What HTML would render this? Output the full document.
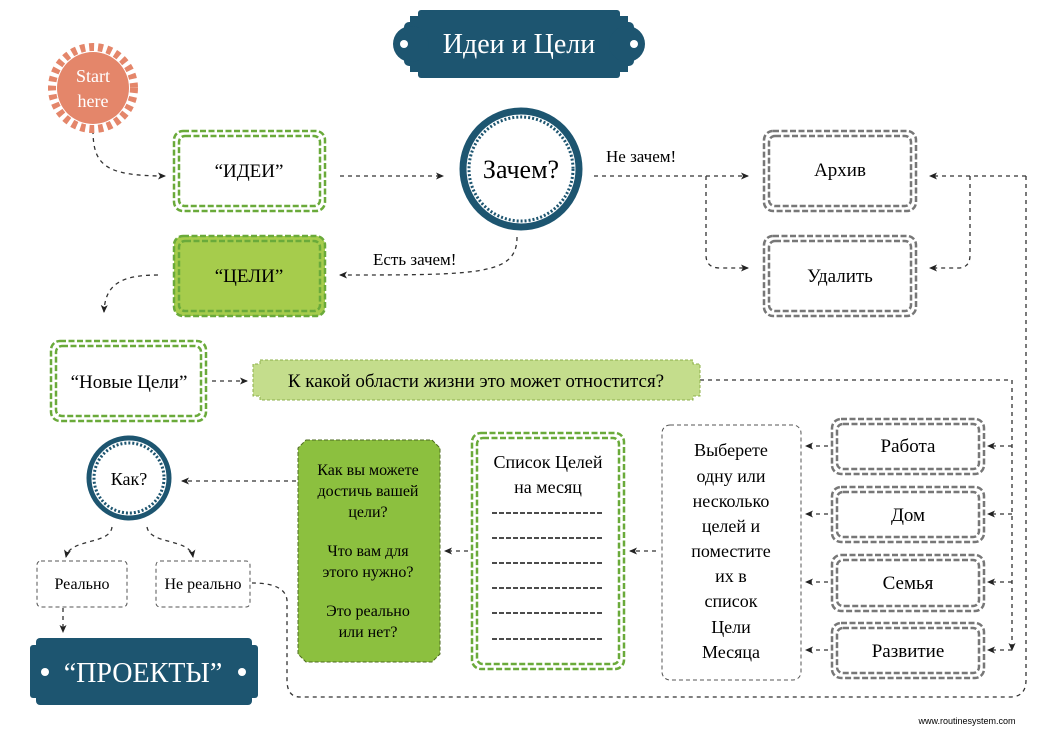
<!DOCTYPE html>
<html><head><meta charset="utf-8"><style>
html,body{margin:0;padding:0;background:#fff;}
svg{display:block;}
text{font-family:"Liberation Serif","DejaVu Serif",serif;}
</style></head><body>
<svg width="1040" height="735" viewBox="0 0 1040 735" xmlns="http://www.w3.org/2000/svg">
<defs>
<marker id="a" markerWidth="8" markerHeight="8" refX="7" refY="4" orient="auto" markerUnits="userSpaceOnUse"><path d="M0,0.5 L8,4 L0,7.5 L2,4 Z" fill="#222"/></marker>
</defs>
<g fill="none" stroke="#333" stroke-width="1.3" stroke-dasharray="4 4" marker-end="url(#a)">
<path d="M93,130 C93,165 105,176 165,176"/>
<path d="M340,176 L443,176"/>
<path d="M594,176 L748,176"/>
<path d="M706,176 L706,255 Q706,268 720,268 L748,268"/>
<path d="M517,237 C517,275 480,275 340,275"/>
<path d="M1026,176 L930,176"/>
<path d="M970,176 L970,255 Q970,268 958,268 L930,268"/>
<path d="M158,275 C120,275 105,285 104,312"/>
<path d="M212,381 L247,381"/>
<path d="M700,380 L1012,380 L1012,650"/>
<path d="M1012,446 L988,446"/><path d="M1012,514 L988,514"/><path d="M1012,582 L988,582"/><path d="M1012,650 L988,650"/>
<path d="M828,446 L806,446"/><path d="M828,514 L806,514"/><path d="M828,582 L806,582"/><path d="M828,650 L806,650"/>
<path d="M656,551 L630,551"/>
<path d="M468,551 L445,551"/>
<path d="M296,481 L182,481"/>
<path d="M112,527 C110,545 70,538 66,557"/>
<path d="M147,527 C150,545 190,538 193,557"/>
<path d="M63,608 L63,632"/>
</g>
<path d="M1026,176 L1026,680 Q1026,697 1010,697 L300,697 Q287,697 287,680 L287,600 Q285,583 252,583" fill="none" stroke="#333" stroke-width="1.3" stroke-dasharray="4 4"/>

<!-- title -->
<g fill="#1d5570">
<rect x="418" y="10" width="202" height="68" rx="3"/>
<rect x="410" y="16" width="218" height="56"/>
<rect x="404" y="22" width="230" height="44" rx="5"/>
<circle cx="411" cy="44" r="18"/><circle cx="627" cy="44" r="18"/>
</g>
<circle cx="404" cy="44" r="4" fill="#fff"/><circle cx="634" cy="44" r="4" fill="#fff"/>
<text x="519" y="53" font-size="28" fill="#fff" text-anchor="middle">Идеи и Цели</text>

<!-- start gear -->
<circle cx="93" cy="88" r="36" fill="#e4866a"/>
<circle cx="93" cy="88" r="41" fill="none" stroke="#e4866a" stroke-width="8" stroke-dasharray="5 4"/>
<text x="93" y="82" font-size="18" fill="#fff" text-anchor="middle">Start</text>
<text x="93" y="107" font-size="18" fill="#fff" text-anchor="middle">here</text>

<!-- green double boxes -->
<g fill="none" stroke="#6aaa3a" stroke-width="2.5" stroke-dasharray="6 2.5">
<rect x="174" y="131" width="151" height="80" rx="9"/><rect x="179" y="136" width="141" height="70" rx="6"/>
<rect x="51" y="341" width="155" height="80" rx="9"/><rect x="56" y="346" width="145" height="70" rx="6"/>
<rect x="472" y="433" width="152" height="236" rx="9"/><rect x="477" y="438" width="142" height="226" rx="6"/>
</g>
<rect x="174" y="236" width="151" height="80" rx="9" fill="#a6cc4c"/>
<g fill="none" stroke="#6aaa3a" stroke-width="2.5" stroke-dasharray="6 2.5">
<rect x="174" y="236" width="151" height="80" rx="9"/><rect x="179" y="241" width="141" height="70" rx="6"/>
</g>
<text x="249" y="177" font-size="19" text-anchor="middle">“ИДЕИ”</text>
<text x="249" y="282" font-size="19" text-anchor="middle">“ЦЕЛИ”</text>
<text x="129" y="388" font-size="19" text-anchor="middle">“Новые Цели”</text>

<!-- gray double boxes -->
<g fill="none" stroke="#777" stroke-width="2.5" stroke-dasharray="6 2.5">
<rect x="764" y="131" width="152" height="80" rx="9"/><rect x="769" y="136" width="142" height="70" rx="6"/>
<rect x="764" y="236" width="152" height="80" rx="9"/><rect x="769" y="241" width="142" height="70" rx="6"/>
<rect x="832" y="419" width="152" height="55" rx="9"/><rect x="837" y="424" width="142" height="45" rx="6"/>
<rect x="832" y="487" width="152" height="55" rx="9"/><rect x="837" y="492" width="142" height="45" rx="6"/>
<rect x="832" y="555" width="152" height="56" rx="9"/><rect x="837" y="560" width="142" height="46" rx="6"/>
<rect x="832" y="623" width="152" height="55" rx="9"/><rect x="837" y="628" width="142" height="45" rx="6"/>
</g>
<g font-size="19" text-anchor="middle">
<text x="840" y="176">Архив</text>
<text x="840" y="282">Удалить</text>
<text x="908" y="452">Работа</text>
<text x="908" y="521">Дом</text>
<text x="908" y="589">Семья</text>
<text x="908" y="657">Развитие</text>
</g>

<!-- Зачем circle -->
<circle cx="521" cy="169" r="58" fill="#fff" stroke="#1d5570" stroke-width="7"/>
<circle cx="521" cy="169" r="52" fill="none" stroke="#1d5570" stroke-width="3" stroke-dasharray="2 2"/>
<text x="521" y="178" font-size="26" text-anchor="middle">Зачем?</text>
<text x="606" y="162" font-size="17">Не зачем!</text>
<text x="373" y="265" font-size="17">Есть зачем!</text>

<!-- banner -->
<path d="M260,360 L693,360 L693,364 L700,364 L700,396 L693,396 L693,400 L260,400 L260,396 L253,396 L253,364 L260,364 Z" fill="#c4dd8c" stroke="#8cb04a" stroke-width="1" stroke-dasharray="3 2"/>
<text x="476" y="387" font-size="19" text-anchor="middle">К какой области жизни это может отностится?</text>

<!-- Как circle -->
<circle cx="129" cy="478" r="40" fill="#fff" stroke="#1d5570" stroke-width="5"/>
<circle cx="129" cy="478" r="35" fill="none" stroke="#1d5570" stroke-width="3" stroke-dasharray="2 2"/>
<text x="129" y="485" font-size="18" text-anchor="middle">Как?</text>

<!-- Реально -->
<g fill="none" stroke="#555" stroke-width="1" stroke-dasharray="4 3">
<rect x="37" y="561" width="90" height="46" rx="4"/>
<rect x="156" y="561" width="94" height="46" rx="4"/>
<rect x="662" y="425" width="139" height="255" rx="8"/>
</g>
<text x="82" y="589" font-size="16" text-anchor="middle">Реально</text>
<text x="203" y="589" font-size="16" text-anchor="middle">Не реально</text>

<!-- ПРОЕКТЫ -->
<g fill="#1d5570">
<rect x="36" y="638" width="216" height="67" rx="4"/>
<rect x="30" y="645" width="228" height="53" rx="3"/>
</g>
<circle cx="45" cy="672" r="4" fill="#fff"/><circle cx="242" cy="672" r="4" fill="#fff"/>
<text x="143" y="682" font-size="28" fill="#fff" text-anchor="middle">“ПРОЕКТЫ”</text>

<!-- green question box -->
<path d="M306,440 L432,440 L440,448 L440,654 L432,662 L306,662 L298,654 L298,448 Z" fill="#8cc03f" stroke="#4d6b20" stroke-width="1" stroke-dasharray="4 2"/>
<g font-size="16" text-anchor="middle">
<text x="368" y="475">Как вы можете</text>
<text x="368" y="496">достичь вашей</text>
<text x="368" y="517">цели?</text>
<text x="368" y="556">Что вам для</text>
<text x="368" y="577">этого нужно?</text>
<text x="368" y="616">Это реально</text>
<text x="368" y="637">или нет?</text>
</g>

<!-- Список -->
<g font-size="18" text-anchor="middle">
<text x="548" y="468">Список Целей</text>
<text x="548" y="493">на месяц</text>
</g>
<g stroke="#111" stroke-width="1.5" stroke-dasharray="5 2">
<line x1="492" y1="513" x2="603" y2="513"/><line x1="492" y1="538" x2="603" y2="538"/>
<line x1="492" y1="563" x2="603" y2="563"/><line x1="492" y1="588" x2="603" y2="588"/>
<line x1="492" y1="613" x2="603" y2="613"/><line x1="492" y1="639" x2="603" y2="639"/>
</g>

<g font-size="18" text-anchor="middle">
<text x="731" y="456">Выберете</text>
<text x="731" y="482">одну или</text>
<text x="731" y="507">несколько</text>
<text x="731" y="532">целей и</text>
<text x="731" y="557">поместите</text>
<text x="731" y="582">их в</text>
<text x="731" y="607">список</text>
<text x="731" y="633">Цели</text>
<text x="731" y="658">Месяца</text>
</g>
<text x="967" y="724" font-size="9" text-anchor="middle" style="font-family:'Liberation Sans',sans-serif">www.routinesystem.com</text>
</svg>
</body></html>
